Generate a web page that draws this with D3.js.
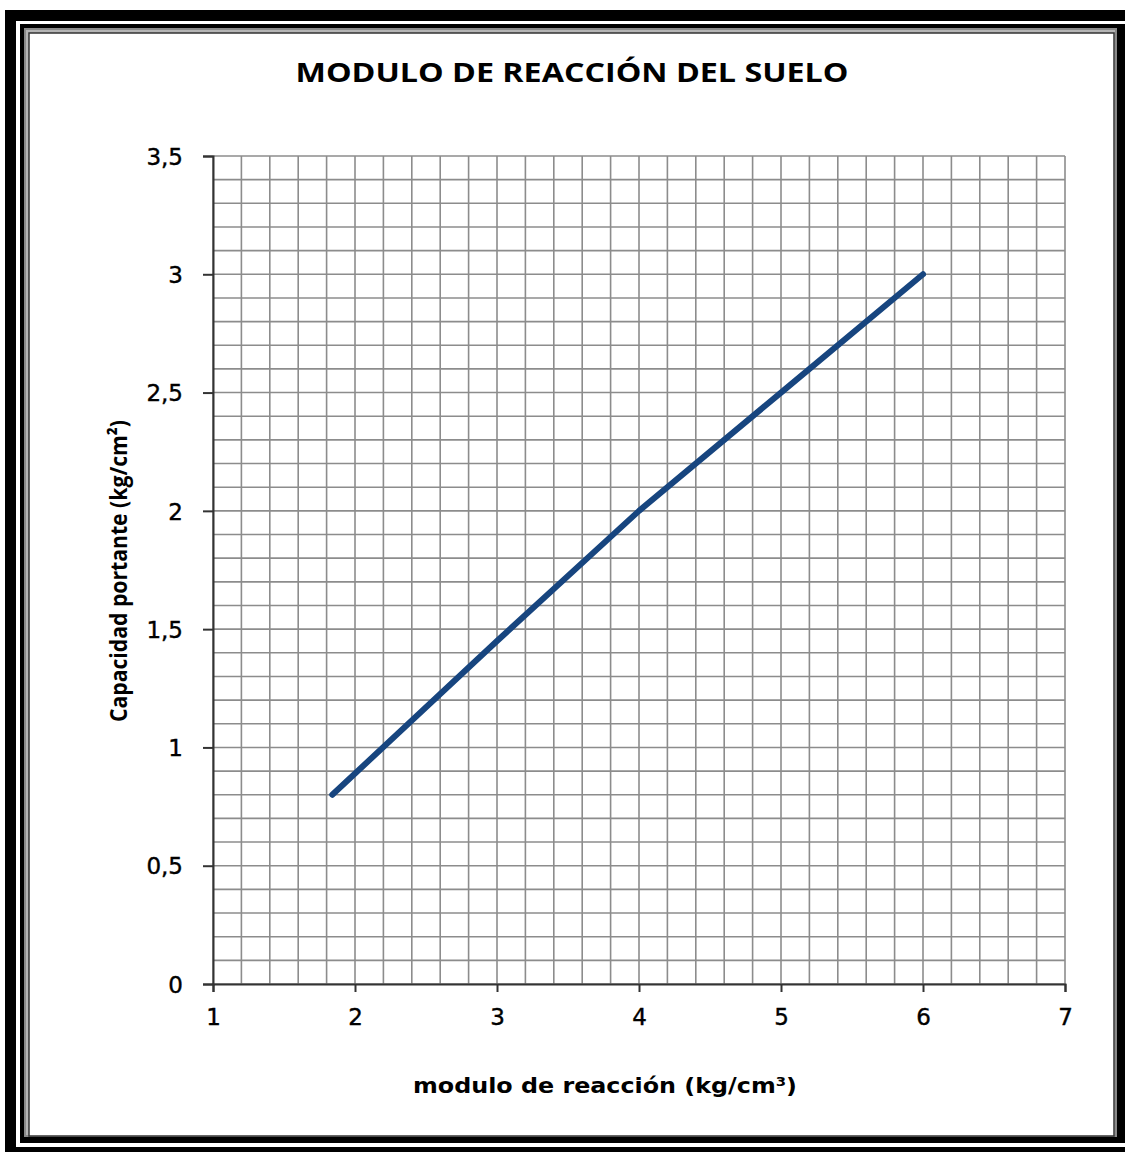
<!DOCTYPE html>
<html>
<head>
<meta charset="utf-8">
<script src="https://cdn.jsdelivr.net/npm/d3@7"></script>
<style>
  body{margin:0;background:#fff;}
  svg{display:block;}
</style>
</head>
<body>
<main></main>
<script>
// data
const moduloReaccion=[1.84, 3, 4, 5, 6];
const capacidadPortante=[0.8, 1.45, 2.0, 2.5, 3.0];
const xTicks=[1, 2, 3, 4, 5, 6, 7];
const yTicks=[0, 0.5, 1, 1.5, 2, 2.5, 3, 3.5];
const xGrid=d3.range(1, 7.001, 0.2);
const yGrid=d3.range(0, 3.501, 0.1);

const sizeOfSVG={
    width: 1125,
    height: 1152
};

const plot={
    left: 213,
    right: 1065,
    top: 156,
    bottom: 984
};

const canvas=()=>{
    return d3.select('main')
            .append('svg')
            .attr('width',sizeOfSVG.width)
            .attr('height',sizeOfSVG.height)
};

const frame=(svg)=>{
    // outer black border + white gap + chart border
    svg.append('rect').attr('x',5).attr('y',10).attr('width',1130).attr('height',1150).attr('fill','#000')
    svg.append('rect').attr('x',16).attr('y',21).attr('width',1120).attr('height',1126).attr('fill','#fff')
    svg.append('rect').attr('x',20).attr('y',24).attr('width',1110).attr('height',1119).attr('fill','#000')
    svg.append('rect').attr('x',24).attr('y',28).attr('width',1093).attr('height',1109).attr('fill','#8a8a8a')
    svg.append('rect').attr('x',26).attr('y',30).attr('width',1089).attr('height',1105).attr('fill','#b5b5b5')
    svg.append('rect').attr('x',29).attr('y',33).attr('width',1085).attr('height',1103)
        .attr('fill','#fff').attr('stroke','#333').attr('stroke-width',1.5)
};

const scales=()=>{
    const xScale=d3.scaleLinear().domain([1,7]).range([plot.left,plot.right])
    const yScale=d3.scaleLinear().domain([0,3.5]).range([plot.bottom,plot.top])
    return {xScale,yScale}
};

const grid=(svg,s)=>{
    svg.append('g').selectAll('line')
        .data(xGrid).enter().append('line')
        .attr('x1',d=>s.xScale(d)).attr('x2',d=>s.xScale(d))
        .attr('y1',plot.top).attr('y2',plot.bottom)
        .attr('stroke','#8c8c8c').attr('stroke-width',1.6)
    svg.append('g').selectAll('line')
        .data(yGrid).enter().append('line')
        .attr('y1',d=>s.yScale(d)).attr('y2',d=>s.yScale(d))
        .attr('x1',plot.left).attr('x2',plot.right)
        .attr('stroke','#8c8c8c').attr('stroke-width',1.6)
};

const axes=(svg,s)=>{
    const fmt=d=>String(d).replace('.',',')
    const xAxis=svg.append('g')
        .attr('transform',`translate(0,${plot.bottom})`)
        .call(d3.axisBottom(s.xScale).tickValues(xTicks).tickFormat(fmt).tickSize(8).tickPadding(17))
    const yAxis=svg.append('g')
        .attr('transform',`translate(${plot.left},0)`)
        .call(d3.axisLeft(s.yScale).tickValues(yTicks).tickFormat(fmt).tickSize(10).tickPadding(20))
    ;[xAxis,yAxis].forEach(g=>{
        g.select('.domain').attr('stroke','#333').attr('stroke-width',2)
        g.selectAll('.tick line').attr('stroke','#333').attr('stroke-width',2)
        g.selectAll('text').attr('font-family','DejaVu Sans, Verdana, sans-serif')
            .attr('font-size',23).attr('fill','#000')
            .attr('stroke','#000').attr('stroke-width',0.4) // a touch heavier, like the original
    })
    yAxis.selectAll('text').attr('dy','0.36em')
};

const line=(svg,s)=>{
    const pts=moduloReaccion.map((d,i)=>[d,capacidadPortante[i]])
    svg.append('path')
        .datum(pts)
        .attr('d',d3.line().x(d=>s.xScale(d[0])).y(d=>s.yScale(d[1])))
        .attr('fill','none')
        .attr('stroke','#17457f')
        .attr('stroke-width',6)
        .attr('stroke-linecap','round')
        .attr('stroke-linejoin','round')
};

const labels=(svg)=>{
    svg.append('text')
        .attr('x',572).attr('y',82)
        .attr('text-anchor','middle')
        .attr('font-family','Open Sans, sans-serif').attr('font-weight','bold')
        .attr('font-size',27)
        .attr('textLength',553).attr('lengthAdjust','spacingAndGlyphs')
        .text('MODULO DE REACCIÓN DEL SUELO')
    svg.append('text')
        .attr('x',605).attr('y',1093)
        .attr('text-anchor','middle')
        .attr('font-family','DejaVu Sans, Verdana, sans-serif').attr('font-weight','bold')
        .attr('font-size',21)
        .attr('textLength',384).attr('lengthAdjust','spacingAndGlyphs')
        .text('modulo de reacción (kg/cm³)')
    svg.append('text')
        .attr('transform','translate(127,571) rotate(-90)')
        .attr('text-anchor','middle')
        .attr('font-family','Open Sans, sans-serif').attr('font-weight','bold')
        .attr('font-size',24)
        .attr('textLength',302).attr('lengthAdjust','spacingAndGlyphs')
        .text('Capacidad portante (kg/cm²)')
};

const heartOfChart=()=>{
    const svg=canvas()
    frame(svg)
    const s=scales()
    grid(svg,s)
    axes(svg,s)
    line(svg,s)
    labels(svg)
}
heartOfChart()
</script>
</body>
</html>
